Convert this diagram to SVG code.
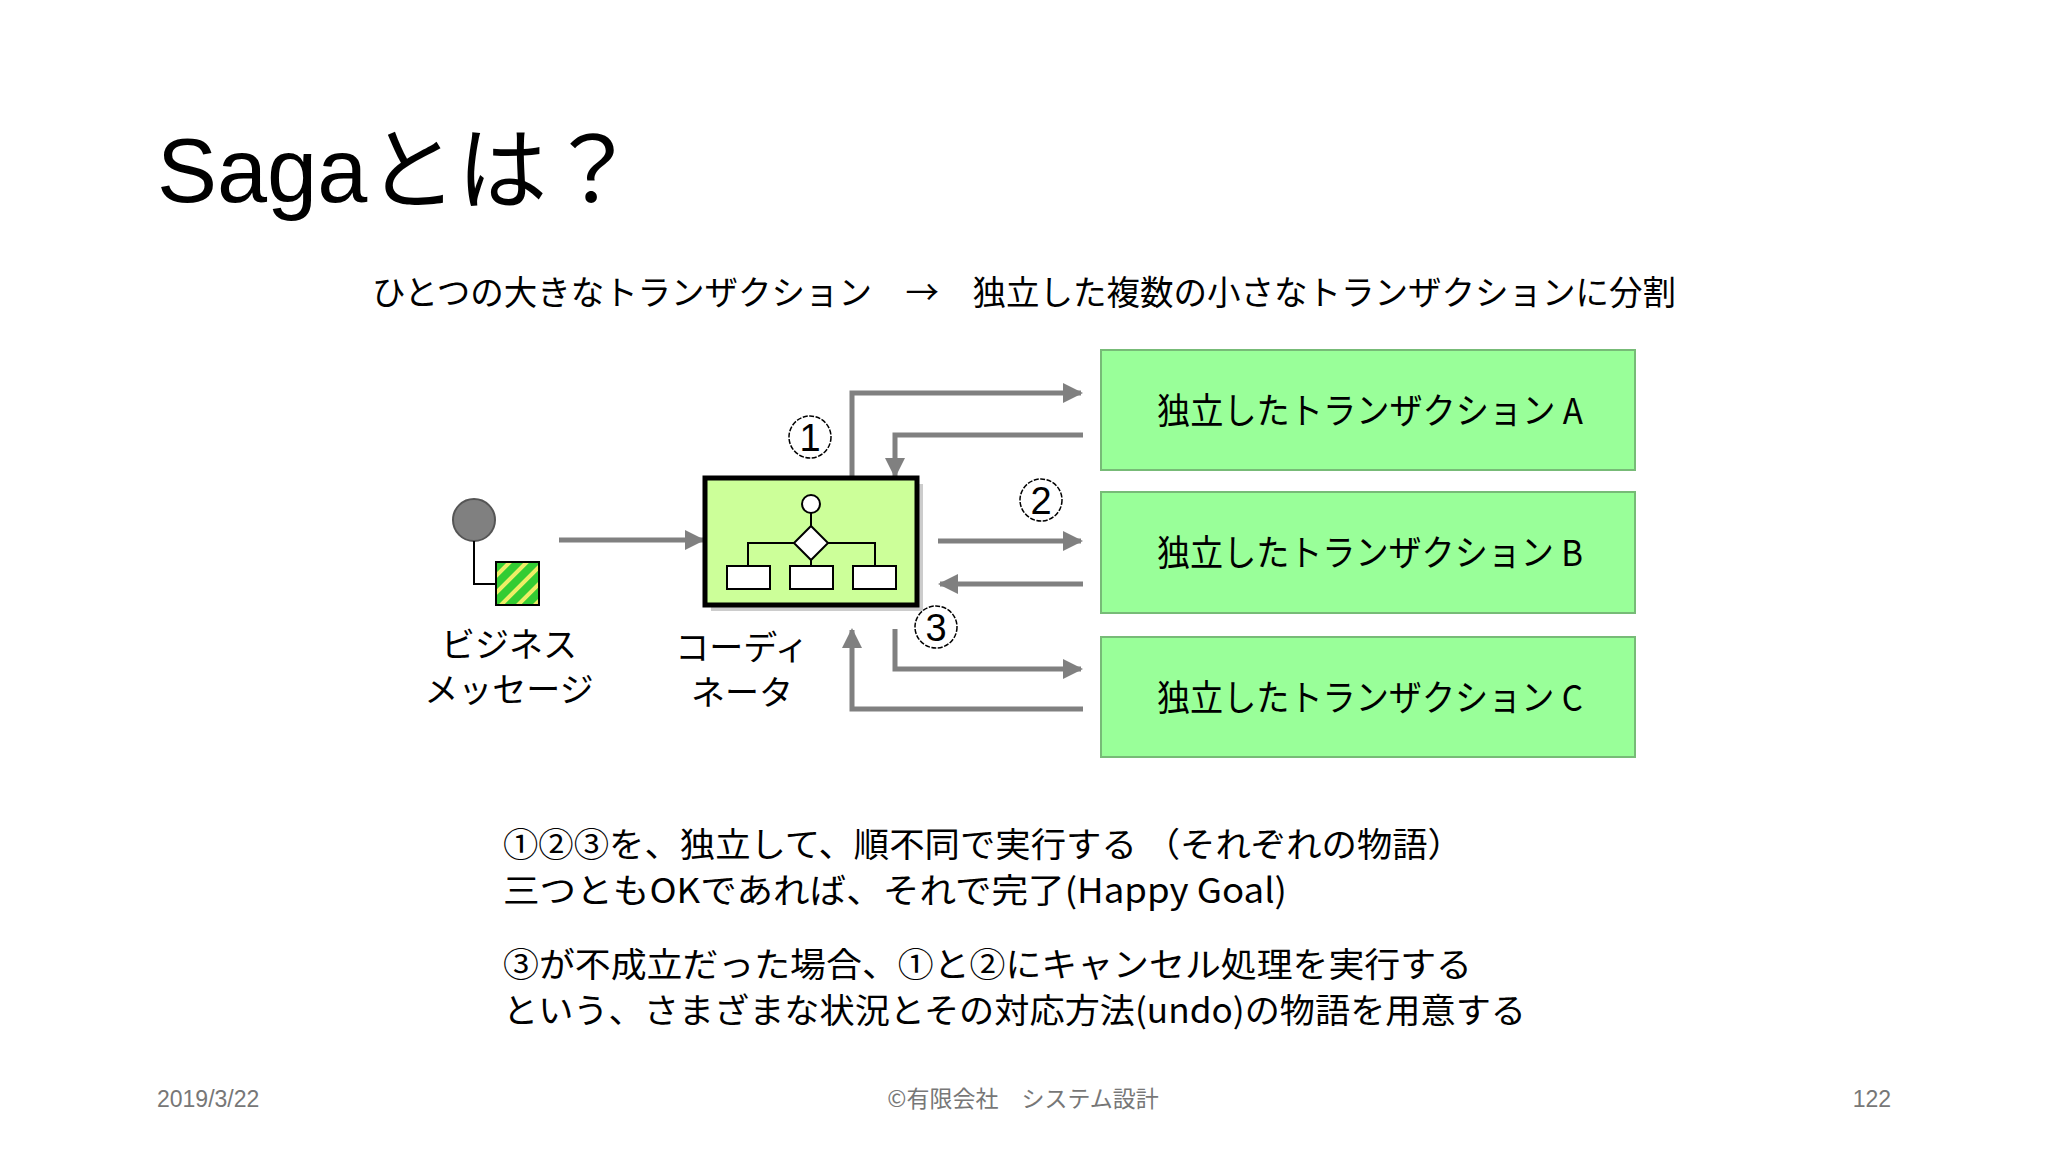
<svg xmlns="http://www.w3.org/2000/svg" width="2048" height="1152" viewBox="0 0 2048 1152">
<style>
text{font-family:"Noto Sans CJK JP","Liberation Sans",sans-serif;fill:#000}
.lat{font-family:"Liberation Sans","Noto Sans CJK JP",sans-serif}
.tx{fill:#99ff99;stroke:#77bb77;stroke-width:2}
.ar{fill:none;stroke:#808080;stroke-width:5}
.num{fill:#fff;stroke:#000;stroke-width:1.5;stroke-dasharray:5 1.5}
.foot{fill:#777;font-size:23px}
</style>
<defs><marker id="ah" viewBox="0 0 10 10" refX="9" refY="5" markerWidth="4" markerHeight="4" orient="auto" markerUnits="strokeWidth"><path d="M0,0L10,5L0,10z" fill="#808080"/></marker>
<pattern id="st" width="12" height="12" patternUnits="userSpaceOnUse" patternTransform="rotate(45)"><rect width="12" height="12" fill="#33cc33"/><rect width="4" height="12" fill="#eeee66"/></pattern></defs>
<rect width="2048" height="1152" fill="#fff"/>
<text class="lat" x="157" y="202" font-size="90">Sagaとは？</text>
<text x="372" y="305" font-size="34" textLength="1304" lengthAdjust="spacingAndGlyphs">ひとつの大きなトランザクション　→　独立した複数の小さなトランザクションに分割</text>
<g id="connectors">
<path class="ar" d="M559,540H703" marker-end="url(#ah)"/>
<path class="ar" d="M852,478V393H1081" marker-end="url(#ah)"/>
<path class="ar" d="M1083,435H895V476" marker-end="url(#ah)"/>
<path class="ar" d="M938,541H1081" marker-end="url(#ah)"/>
<path class="ar" d="M1083,584H940" marker-end="url(#ah)"/>
<path class="ar" d="M895,629V669H1081" marker-end="url(#ah)"/>
<path class="ar" d="M1083,709H852V630" marker-end="url(#ah)"/>
</g>
<g id="n1"><circle class="num" cx="810" cy="437" r="21"/><text x="810" y="451" font-size="38" text-anchor="middle" class="lat">1</text></g>
<g id="n2"><circle class="num" cx="1041" cy="500" r="21"/><text x="1041" y="514" font-size="38" text-anchor="middle" class="lat">2</text></g>
<g id="n3"><circle class="num" cx="936" cy="627" r="21"/><text x="936" y="641" font-size="38" text-anchor="middle" class="lat">3</text></g>
<g id="message">
<circle cx="474" cy="520" r="21" fill="#808080" stroke="#555" stroke-width="2"/>
<path d="M474,541V584H496" fill="none" stroke="#000" stroke-width="2"/>
<rect x="496" y="562" width="43" height="43" fill="url(#st)" stroke="#000" stroke-width="2"/>
<text x="509" y="657" font-size="34" text-anchor="middle">ビジネス</text>
<text x="509" y="702" font-size="34" text-anchor="middle">メッセージ</text>
</g>
<g id="coordinator">
<rect x="711" y="484" width="212" height="127" fill="#ccc"/>
<rect x="705" y="478" width="212" height="127" fill="#ccff99" stroke="#000" stroke-width="5"/>
<path d="M811,513V526M748,566V543H875V566M811,560V566" fill="none" stroke="#000" stroke-width="2"/>
<circle cx="811" cy="504" r="9" fill="#fff" stroke="#000" stroke-width="2"/>
<path d="M811,526L828,543L811,560L794,543z" fill="#fff" stroke="#000" stroke-width="2"/>
<rect x="727" y="566" width="43" height="23" fill="#fff" stroke="#000" stroke-width="2"/>
<rect x="790" y="566" width="43" height="23" fill="#fff" stroke="#000" stroke-width="2"/>
<rect x="853" y="566" width="43" height="23" fill="#fff" stroke="#000" stroke-width="2"/>
<text x="742" y="660" font-size="34" text-anchor="middle">コーディ</text>
<text x="742" y="705" font-size="34" text-anchor="middle">ネータ</text>
</g>
<g id="txA"><rect class="tx" x="1101" y="350" width="534" height="120"/><text x="1157" y="424" font-size="36" textLength="426" lengthAdjust="spacingAndGlyphs">独立したトランザクション A</text></g>
<g id="txB"><rect class="tx" x="1101" y="492" width="534" height="121"/><text x="1157" y="566" font-size="36" textLength="426" lengthAdjust="spacingAndGlyphs">独立したトランザクション B</text></g>
<g id="txC"><rect class="tx" x="1101" y="637" width="534" height="120"/><text x="1157" y="711" font-size="36" textLength="426" lengthAdjust="spacingAndGlyphs">独立したトランザクション C</text></g>
<text x="503" y="857" font-size="34" textLength="960" lengthAdjust="spacingAndGlyphs">①②③を、独立して、順不同で実行する （それぞれの物語）</text>
<text x="503" y="903" font-size="34" textLength="784" lengthAdjust="spacingAndGlyphs">三つともOKであれば、それで完了(Happy Goal)</text>
<text x="503" y="977" font-size="34" textLength="969" lengthAdjust="spacingAndGlyphs">③が不成立だった場合、①と②にキャンセル処理を実行する</text>
<text x="503" y="1023" font-size="34" textLength="1023" lengthAdjust="spacingAndGlyphs">という、さまざまな状況とその対応方法(undo)の物語を用意する</text>
<text class="foot lat" x="157" y="1107">2019/3/22</text>
<text class="foot" x="1023" y="1107" text-anchor="middle">©有限会社　システム設計</text>
<text class="foot lat" x="1891" y="1107" text-anchor="end">122</text>
</svg>
